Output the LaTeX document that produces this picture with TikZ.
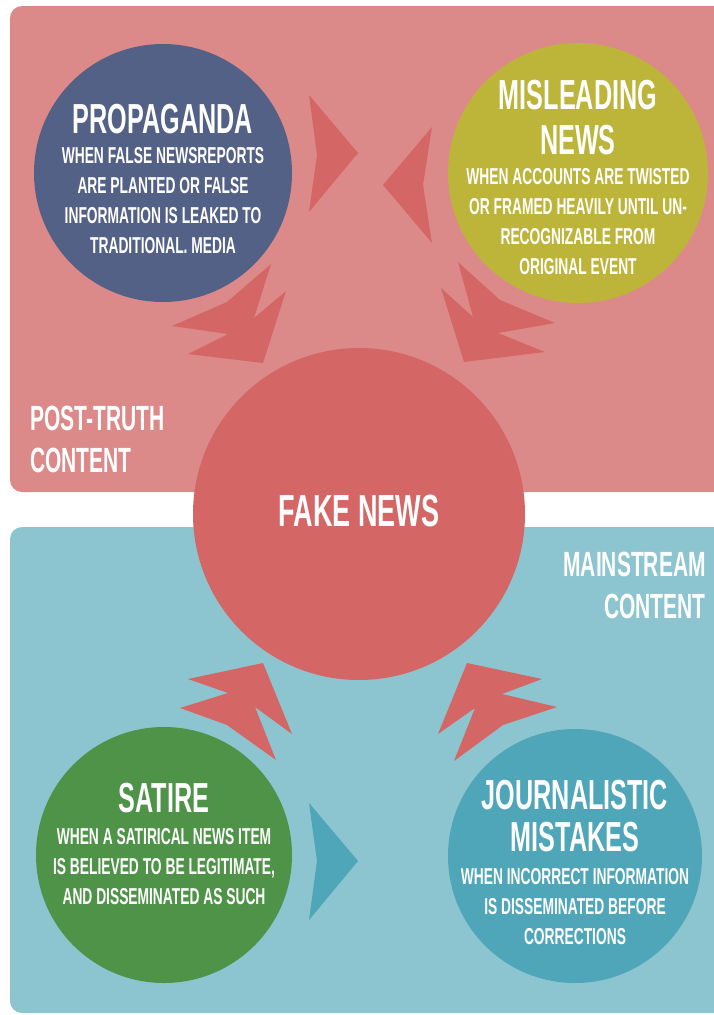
\documentclass[tikz,border=0pt]{standalone}
\usepackage{fontspec}
\setmainfont{Liberation Sans}[FakeStretch=0.6]

\definecolor{postpink}{RGB}{220,138,137}
\definecolor{mainblue}{RGB}{140,197,208}
\definecolor{fakered}{RGB}{212,102,102}
\definecolor{propblue}{RGB}{84,97,134}
\definecolor{olive}{RGB}{189,180,58}
\definecolor{satgreen}{RGB}{78,147,71}
\definecolor{teal}{RGB}{78,166,184}

\newcommand{\head}[1]{{\fontsize{42}{45}\selectfont #1}}

\begin{document}
\begin{tikzpicture}
        [x=1pt, y=-1pt,
         bubble/.style={circle, inner sep=0pt, minimum size=#1},
         blurb/.style={text=white, inner sep=0pt, align=center,
                       font=\bfseries\fontsize{23}{30}\selectfont},
         side/.style={text=white, inner sep=0pt,
                      font=\bfseries\fontsize{35}{42}\selectfont}]
        \clip (0,0) rectangle (714,1015);
        \fill [postpink, rounded corners=12pt] (10,6) rectangle (740,492);
        \fill [mainblue, rounded corners=12pt] (10,527) rectangle (740,1013);
        % the four kinds around fake news
        \node [bubble=258pt, fill=propblue] (prop) at (163,173) {};
        \node [bubble=260pt, fill=olive] (mis) at (578,173) {};
        \node [bubble=332pt, fill=fakered] (fake) at (359,514) {};
        \node [bubble=256pt, fill=satgreen] (sat) at (164,855) {};
        \node [bubble=254pt, fill=teal] (jour) at (575,856) {};
        \node [blurb, yshift=-6pt] (propText) at (prop)
            {\head{PROPAGANDA}\\WHEN FALSE NEWSREPORTS\\ARE PLANTED OR FALSE\\
             INFORMATION IS LEAKED TO\\TRADITIONAL. MEDIA};
        \node [blurb, yshift=-4.5pt] (misText) at (mis)
            {\head{MISLEADING}\\[15pt]\head{NEWS}\\WHEN ACCOUNTS ARE TWISTED\\
             OR FRAMED HEAVILY UNTIL UN-\\RECOGNIZABLE FROM\\ORIGINAL EVENT};
        \node [blurb, yshift=3pt, font=\bfseries\fontsize{45}{45}\selectfont]
            (fakeText) at (fake) {FAKE NEWS};
        \node [blurb, yshift=11pt] (satText) at (sat)
            {\head{SATIRE}\\[2pt]WHEN A SATIRICAL NEWS ITEM\\
             IS BELIEVED TO BE LEGITIMATE,\\AND DISSEMINATED AS SUCH};
        \node [blurb, yshift=-6pt] (jourText) at (jour)
            {\head{JOURNALISTIC}\\[12pt]\head{MISTAKES}\\[3pt]
             WHEN INCORRECT INFORMATION\\IS DISSEMINATED BEFORE\\CORRECTIONS};
        \node [side, anchor=north west, align=left] (post) at (30,406)
            {POST-TRUTH\\CONTENT};
        \node [side, anchor=north east, align=right] (main) at (706,552)
            {MAINSTREAM\\CONTENT};
        % chevrons
        \fill [fakered] (309,95) -- (358,153) -- (309,212) -- (317,155) -- cycle;
        \fill [fakered] (432,127) -- (383,185) -- (432,243) -- (423,185) -- cycle;
        \fill [teal] (309,803) -- (358,861) -- (309,920) -- (317,861) -- cycle;
        % double arrows into the middle
        \fill [fakered] (271,264) -- (254,318) -- (286,291) -- (263,363)
            -- (188,354) -- (228,334) -- (172,326) -- (227,302) -- cycle;
        \fill [fakered] (458,262) -- (473,317) -- (441,288) -- (464,362)
            -- (545,352) -- (498,333) -- (555,323) -- (500,300) -- cycle;
        \fill [fakered] (263,663) -- (292,734) -- (255,707) -- (276,760)
            -- (227,725) -- (180,708) -- (228,693) -- (188,679) -- cycle;
        \fill [fakered] (467,663) -- (542,679) -- (502,694) -- (557,707)
            -- (503,725) -- (454,761) -- (475,708) -- (438,734) -- cycle;
\end{tikzpicture}
\end{document}
